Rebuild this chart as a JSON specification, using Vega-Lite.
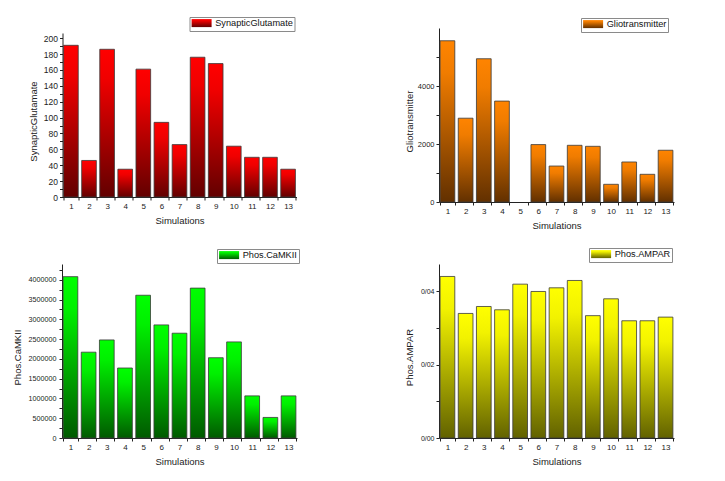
{
  "$schema": "https://vega.github.io/schema/vega-lite/v6.json",
  "background": "white",
  "padding": {"left": 12, "top": 16, "right": 5, "bottom": 5},
  "config": {
    "font": "Liberation Sans",
    "view": {"stroke": null},
    "axis": {"domainColor": "#222", "tickColor": "#222", "labelColor": "#222", "titleColor": "#222", "titleFontWeight": "normal", "grid": false, "domainWidth": 1, "tickWidth": 1, "labelOverlap": false, "labelFlush": false},
    "axisX": {"labelAngle": 0, "tickBand": "extent", "labelFontSize": 8, "labelPadding": 2, "tickSize": 3, "titleFontSize": 9.5, "titleY": 23, "titleBaseline": "middle"},
    "axisY": {"tickSize": 3, "labelPadding": 2, "titleFontSize": 9.5, "titleBaseline": "middle"},
    "legend": {"orient": "none", "title": null, "strokeColor": "#8a8a8a", "fillColor": "white", "padding": 1.5, "symbolType": "M-2.5,-1H2.5V1H-2.5Z", "symbolSize": 64, "symbolOffset": 6, "labelOffset": 9, "symbolStrokeColor": "#333", "symbolStrokeWidth": 0.8, "labelFontSize": 9.2, "labelColor": "#111"}
  },
  "resolve": {"scale": {"opacity": "independent"}, "legend": {"opacity": "independent"}},
  "datasets": {
    "glu": [
      {"sim": 1, "value": 191, "series": "SynapticGlutamate"},
      {"sim": 2, "value": 46, "series": "SynapticGlutamate"},
      {"sim": 3, "value": 186, "series": "SynapticGlutamate"},
      {"sim": 4, "value": 35, "series": "SynapticGlutamate"},
      {"sim": 5, "value": 161, "series": "SynapticGlutamate"},
      {"sim": 6, "value": 94, "series": "SynapticGlutamate"},
      {"sim": 7, "value": 66, "series": "SynapticGlutamate"},
      {"sim": 8, "value": 176, "series": "SynapticGlutamate"},
      {"sim": 9, "value": 168, "series": "SynapticGlutamate"},
      {"sim": 10, "value": 64, "series": "SynapticGlutamate"},
      {"sim": 11, "value": 50, "series": "SynapticGlutamate"},
      {"sim": 12, "value": 50, "series": "SynapticGlutamate"},
      {"sim": 13, "value": 35, "series": "SynapticGlutamate"}
    ],
    "glio": [
      {"sim": 1, "value": 5560, "series": "Gliotransmitter"},
      {"sim": 2, "value": 2890, "series": "Gliotransmitter"},
      {"sim": 3, "value": 4940, "series": "Gliotransmitter"},
      {"sim": 4, "value": 3480, "series": "Gliotransmitter"},
      {"sim": 5, "value": 0, "series": "Gliotransmitter"},
      {"sim": 6, "value": 1980, "series": "Gliotransmitter"},
      {"sim": 7, "value": 1240, "series": "Gliotransmitter"},
      {"sim": 8, "value": 1955, "series": "Gliotransmitter"},
      {"sim": 9, "value": 1920, "series": "Gliotransmitter"},
      {"sim": 10, "value": 610, "series": "Gliotransmitter"},
      {"sim": 11, "value": 1380, "series": "Gliotransmitter"},
      {"sim": 12, "value": 955, "series": "Gliotransmitter"},
      {"sim": 13, "value": 1785, "series": "Gliotransmitter"}
    ],
    "camk": [
      {"sim": 1, "value": 4080000, "series": "Phos.CaMKII"},
      {"sim": 2, "value": 2170000, "series": "Phos.CaMKII"},
      {"sim": 3, "value": 2480000, "series": "Phos.CaMKII"},
      {"sim": 4, "value": 1770000, "series": "Phos.CaMKII"},
      {"sim": 5, "value": 3610000, "series": "Phos.CaMKII"},
      {"sim": 6, "value": 2860000, "series": "Phos.CaMKII"},
      {"sim": 7, "value": 2650000, "series": "Phos.CaMKII"},
      {"sim": 8, "value": 3790000, "series": "Phos.CaMKII"},
      {"sim": 9, "value": 2030000, "series": "Phos.CaMKII"},
      {"sim": 10, "value": 2430000, "series": "Phos.CaMKII"},
      {"sim": 11, "value": 1065000, "series": "Phos.CaMKII"},
      {"sim": 12, "value": 520000, "series": "Phos.CaMKII"},
      {"sim": 13, "value": 1065000, "series": "Phos.CaMKII"}
    ],
    "ampar": [
      {"sim": 1, "value": 0.0441, "series": "Phos.AMPAR"},
      {"sim": 2, "value": 0.034, "series": "Phos.AMPAR"},
      {"sim": 3, "value": 0.0359, "series": "Phos.AMPAR"},
      {"sim": 4, "value": 0.035, "series": "Phos.AMPAR"},
      {"sim": 5, "value": 0.042, "series": "Phos.AMPAR"},
      {"sim": 6, "value": 0.04, "series": "Phos.AMPAR"},
      {"sim": 7, "value": 0.041, "series": "Phos.AMPAR"},
      {"sim": 8, "value": 0.043, "series": "Phos.AMPAR"},
      {"sim": 9, "value": 0.0334, "series": "Phos.AMPAR"},
      {"sim": 10, "value": 0.038, "series": "Phos.AMPAR"},
      {"sim": 11, "value": 0.032, "series": "Phos.AMPAR"},
      {"sim": 12, "value": 0.032, "series": "Phos.AMPAR"},
      {"sim": 13, "value": 0.033, "series": "Phos.AMPAR"}
    ]
  },
  "columns": 2,
  "bounds": "flush",
  "center": true,
  "spacing": {"column": 142, "row": 62},
  "concat": [
    {
      "data": {"name": "glu"},
      "width": 234, "height": 164,
      "mark": {"type": "bar", "stroke": "#3a3a3a", "strokeWidth": 0.8, "fill": {"gradient": "linear", "x1": 0, "y1": 0, "x2": 0, "y2": 1, "stops": [{"offset": 0, "color": "#ff0000"}, {"offset": 0.2, "color": "#f00000"}, {"offset": 1, "color": "#620000"}]}},
      "encoding": {
        "x": {"field": "sim", "type": "ordinal", "scale": {"paddingInner": 0.19, "paddingOuter": 0.06}, "axis": {"title": "Simulations"}},
        "y": {"field": "value", "type": "quantitative", "scale": {"domain": [0, 206.5], "nice": false},
          "axis": {"title": "SynapticGlutamate", "values": [0,10,20,30,40,50,60,70,80,90,100,110,120,130,140,150,160,170,180,190,200], "format": "d", "labelExpr": "datum.value % 20 == 0 ? datum.label : ''", "labelFontSize": 8.5, "titleX": -29, "titleY": 88}},
        "opacity": {"field": "series", "type": "nominal", "scale": {"range": [1]},
          "legend": {"legendX": 127, "legendY": -16, "symbolFillColor": "#d80000", "symbolOpacity": 1}}
      }
    },
    {
      "data": {"name": "glio"},
      "width": 235, "height": 174,
      "mark": {"type": "bar", "stroke": "#3a3a3a", "strokeWidth": 0.8, "fill": {"gradient": "linear", "x1": 0, "y1": 0, "x2": 0, "y2": 1, "stops": [{"offset": 0, "color": "#ff8400"}, {"offset": 0.2, "color": "#f07c00"}, {"offset": 1, "color": "#623000"}]}},
      "encoding": {
        "x": {"field": "sim", "type": "ordinal", "scale": {"paddingInner": 0.19, "paddingOuter": 0.06}, "axis": {"title": "Simulations"}},
        "y": {"field": "value", "type": "quantitative", "scale": {"domain": [0, 6000], "nice": false},
          "axis": {"title": "Gliotransmitter", "values": [0,1000,2000,3000,4000,5000], "format": "d", "labelExpr": "datum.value % 2000 == 0 ? datum.label : ''", "labelFontSize": 7.5, "titleX": -29.7, "titleY": 93}},
        "strokeOpacity": {"condition": {"test": "datum.value == 0", "value": 0}, "value": 1},
        "opacity": {"field": "series", "type": "nominal", "scale": {"range": [1]},
          "legend": {"legendX": 142, "legendY": -10, "symbolFillColor": "#e07000", "symbolOpacity": 1}}
      }
    },
    {
      "data": {"name": "camk"},
      "width": 235, "height": 174,
      "mark": {"type": "bar", "stroke": "#3a3a3a", "strokeWidth": 0.8, "fill": {"gradient": "linear", "x1": 0, "y1": 0, "x2": 0, "y2": 1, "stops": [{"offset": 0, "color": "#00ff00"}, {"offset": 0.2, "color": "#00f000"}, {"offset": 1, "color": "#005a00"}]}},
      "encoding": {
        "x": {"field": "sim", "type": "ordinal", "scale": {"paddingInner": 0.19, "paddingOuter": 0.06}, "axis": {"title": "Simulations"}},
        "y": {"field": "value", "type": "quantitative", "scale": {"domain": [0, 4400000], "nice": false},
          "axis": {"title": "Phos.CaMKII", "values": [0,250000,500000,750000,1000000,1250000,1500000,1750000,2000000,2250000,2500000,2750000,3000000,3250000,3500000,3750000,4000000,4250000], "format": "d", "labelExpr": "datum.value % 500000 == 0 ? datum.label : ''", "labelFontSize": 7.2, "labelPadding": 3, "titleX": -45, "titleY": 93}},
        "opacity": {"field": "series", "type": "nominal", "scale": {"range": [1]},
          "legend": {"legendX": 155, "legendY": -15, "symbolFillColor": "#00d800", "symbolOpacity": 1}}
      }
    },
    {
      "data": {"name": "ampar"},
      "width": 235, "height": 174,
      "mark": {"type": "bar", "stroke": "#3a3a3a", "strokeWidth": 0.8, "fill": {"gradient": "linear", "x1": 0, "y1": 0, "x2": 0, "y2": 1, "stops": [{"offset": 0, "color": "#ffff00"}, {"offset": 0.2, "color": "#f2f200"}, {"offset": 1, "color": "#626200"}]}},
      "encoding": {
        "x": {"field": "sim", "type": "ordinal", "scale": {"paddingInner": 0.19, "paddingOuter": 0.06}, "axis": {"title": "Simulations"}},
        "y": {"field": "value", "type": "quantitative", "scale": {"domain": [0, 0.0475], "nice": false},
          "axis": {"title": "Phos.AMPAR", "values": [0, 0.01, 0.02, 0.03, 0.04], "labelExpr": "datum.value == 0 ? '0/00' : datum.value == 0.02 ? '0/02' : datum.value == 0.04 ? '0/04' : ''", "labelFontSize": 7, "titleX": -29.7, "titleY": 93}},
        "opacity": {"field": "series", "type": "nominal", "scale": {"range": [1]},
          "legend": {"legendX": 150, "legendY": -16, "symbolFillColor": "#e0e000", "symbolOpacity": 1}}
      }
    }
  ]
}
